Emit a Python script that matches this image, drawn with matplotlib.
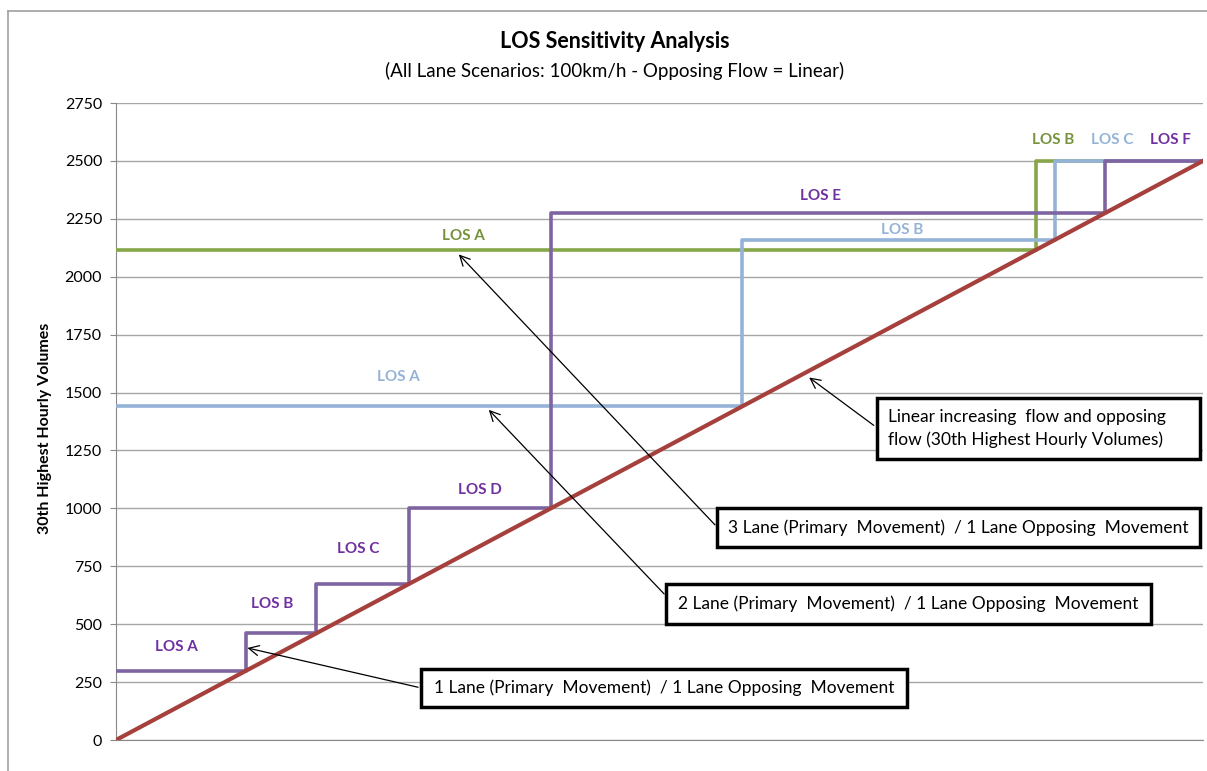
import matplotlib.pyplot as plt
from matplotlib.patches import Rectangle
from matplotlib.lines import Line2D

plt.rcParams['font.family'] = ['Lato', 'DejaVu Sans']

# flow axis (linear increasing flow and opposing flow)
flow_x = [0, 2500]
flow_y = [0, 2500]

# 1 lane (purple): step breakpoints and the level held from each breakpoint
lane1_x = [0, 300, 460, 675, 1000, 2275, 2500]
lane1_y = [300, 460, 675, 1000, 2275, 2500, 2500]
lane1_labels = ['LOS A', 'LOS B', 'LOS C', 'LOS D', 'LOS E', 'LOS F']

# 2 lane (light blue)
lane2_x = [0, 1440, 2160, 2500]
lane2_y = [1440, 2160, 2500, 2500]
lane2_labels = ['LOS A', 'LOS B', 'LOS C']

# 3 lane (green)
lane3_x = [0, 2115, 2500]
lane3_y = [2115, 2500, 2500]
lane3_labels = ['LOS A', 'LOS B']

yticks = [0, 250, 500, 750, 1000, 1250, 1500, 1750, 2000, 2250, 2500, 2750]

purple = '#7F64A2'
blue = '#95B3D7'
green = '#86A64A'
red = '#A6403C'

fig = plt.figure(figsize=(12.07, 7.71), dpi=100)
ax = fig.add_axes([116/1207, 31/771, (1203-116)/1207, (740-103)/771])

# outer chart border (left + top only visible)
fig.add_artist(Line2D([8/1207, 8/1207], [0, 1-11/771], color='#A0A0A0', lw=1.2))
fig.add_artist(Line2D([8/1207, 1], [1-11/771, 1-11/771], color='#A0A0A0', lw=1.2))

ax.set_xlim(0, 2500)
ax.set_ylim(0, 2750)
ax.set_yticks(yticks)
ax.set_xticks([])
ax.grid(axis='y', color='#A6A6A6', lw=1)
ax.set_axisbelow(True)
for s in ['top', 'right']:
    ax.spines[s].set_visible(False)
for s in ['left', 'bottom']:
    ax.spines[s].set_color('#888888')
ax.tick_params(axis='y', length=4, color='#888888', labelsize=11.5, pad=6)

ax.step(lane3_x, lane3_y, where='post', color=green, lw=2.6, zorder=3)
ax.step(lane2_x, lane2_y, where='post', color=blue, lw=2.6, zorder=3)
ax.step(lane1_x, lane1_y, where='post', color=purple, lw=2.6, zorder=4)
ax.plot(flow_x, flow_y, color=red, lw=3, zorder=5)

# LOS labels
lab1_pos = [(138, 402), (359, 587), (556, 824), (837, 1079), (1621, 2349), (2424, 2591)]
lab2_pos = [(649, 1567), (1808, 2202), (2291, 2591)]
lab3_pos = [(800, 2176), (2155, 2591)]
for t, p in zip(lane1_labels, lab1_pos):
    ax.text(p[0], p[1], t, color='#7030A0', fontsize=11, fontweight='bold', ha='center', va='center')
for t, p in zip(lane2_labels, lab2_pos):
    ax.text(p[0], p[1], t, color=blue, fontsize=11, fontweight='bold', ha='center', va='center')
for t, p in zip(lane3_labels, lab3_pos):
    ax.text(p[0], p[1], t, color='#76923C', fontsize=11, fontweight='bold', ha='center', va='center')

# callout boxes: (x0, y0, x1, y1), text, arrow tip, arrow tail
callouts = [
    ((1750, 1213, 2493, 1477), 'Linear increasing  flow and opposing\nflow (30th Highest Hourly Volumes)',
     (1589, 1572), (1748, 1351)),
    ((1382, 833, 2493, 1002), '3 Lane (Primary  Movement)  / 1 Lane Opposing  Movement',
     (784, 2105), (1382, 920)),
    ((1265, 501, 2380, 674), '2 Lane (Primary  Movement)  / 1 Lane Opposing  Movement',
     (853, 1434), (1265, 622)),
    ((701, 142, 1819, 307), '1 Lane (Primary  Movement)  / 1 Lane Opposing  Movement',
     (296, 400), (701, 225)),
]
for i, (box, txt, tip, tail) in enumerate(callouts):
    ax.annotate('', xy=tip, xytext=tail,
                arrowprops=dict(arrowstyle='->', color='black', lw=0.9, mutation_scale=18),
                zorder=6, annotation_clip=False)
    ax.add_patch(Rectangle((box[0], box[1]), box[2]-box[0], box[3]-box[1],
                           facecolor='white', edgecolor='black', lw=2.5, zorder=7, clip_on=False))
    if i == 0:
        ax.text(box[0] + 25, (box[1]+box[3])/2, txt, fontsize=12.5, ha='left', va='center',
                linespacing=1.5, zorder=8)
    else:
        ax.text((box[0]+box[2])/2, (box[1]+box[3])/2, txt, fontsize=12.5, ha='center', va='center', zorder=8)

fig.text(615/1207, 1-42/771, 'LOS Sensitivity Analysis', fontsize=15.5, fontweight='bold', ha='center', va='center')
fig.text(615/1207, 1-71/771, '(All Lane Scenarios: 100km/h - Opposing Flow = Linear)', fontsize=13.5, ha='center', va='center')
fig.text(45/1207, 1-428/771, '30th Highest Hourly Volumes', fontsize=11.5, fontweight='bold', rotation=90,
         ha='center', va='center')

fig.savefig('out.png', dpi=100)
